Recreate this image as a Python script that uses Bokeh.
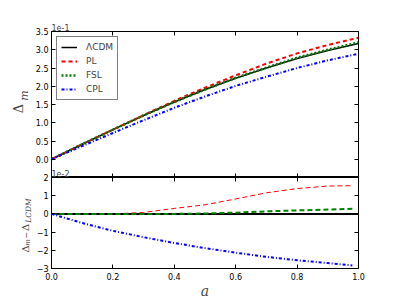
from math import pi
from bokeh.plotting import figure
from bokeh.layouts import column, row
from bokeh.models import Range1d, LinearAxis, FixedTicker, Label, CustomJSTickFormatter, Title
from bokeh.embed import file_html
from bokeh.resources import INLINE

# ---- data (top panel, Delta_m in units of 1e-1) ----
a = [0.0, 0.1, 0.2, 0.3, 0.4, 0.5, 0.6, 0.7, 0.8, 0.9, 1.0]
lcdm = [0.00, 0.41, 0.81, 1.20, 1.57, 1.91, 2.22, 2.50, 2.76, 2.98, 3.17]
pl = [0.00, 0.41, 0.81, 1.21, 1.60, 1.96, 2.30, 2.62, 2.90, 3.13, 3.33]
fsl = [0.00, 0.41, 0.81, 1.20, 1.57, 1.91, 2.23, 2.51, 2.78, 3.00, 3.20]
cpl = [0.00, 0.36, 0.72, 1.07, 1.41, 1.72, 2.01, 2.26, 2.50, 2.71, 2.89]

# ---- data (bottom panel, Delta_m - Delta_LCDM in units of 1e-2) ----
a_diff = [0.0, 0.1, 0.2, 0.3, 0.4, 0.5, 0.6, 0.7, 0.8, 0.9, 0.98]
d_lcdm = [0.0, 0.0, 0.0, 0.0, 0.0, 0.0, 0.0, 0.0, 0.0, 0.0, 0.0]
d_pl = [0.0, 0.0, 0.0, 0.08, 0.30, 0.50, 0.82, 1.16, 1.39, 1.53, 1.55]
d_fsl = [0.0, 0.0, 0.0, 0.0, 0.0, 0.02, 0.07, 0.14, 0.19, 0.24, 0.28]
d_cpl = [0.0, -0.50, -0.93, -1.28, -1.60, -1.88, -2.13, -2.36, -2.55, -2.70, -2.83]

x_ticks = [0.0, 0.2, 0.4, 0.6, 0.8, 1.0]
x_tick_labels = ["0.0", "0.2", "0.4", "0.6", "0.8", "1.0"]
top_ticks = [-0.5, 0.0, 0.5, 1.0, 1.5, 2.0, 2.5, 3.0, 3.5]
top_tick_labels = ["", "0.0", "0.5", "1.0", "1.5", "2.0", "2.5", "3.0", "3.5"]
bot_ticks = [-3, -2, -1, 0, 1, 2]
bot_tick_labels = ["\u22123", "\u22122", "\u22121", "0", "1", "2"]

FONT = "DejaVu Sans"
SERIF = "DejaVu Serif"
STRIP_W = 32
MAIN_W = 368
OVER = 6  # px of the lower panel's border that overlaps the upper panel


def style_axis(ax, ticks, labels=None):
    ax.ticker = FixedTicker(ticks=ticks)
    ax.axis_line_color = None
    ax.major_tick_in = 4
    ax.major_tick_out = 0
    ax.major_tick_line_color = "black"
    ax.major_tick_line_width = 1
    ax.minor_tick_line_color = None
    if labels is None:
        ax.formatter = CustomJSTickFormatter(code="return ''")
        ax.major_label_text_font_size = "0px"
        ax.major_label_standoff = 0
    else:
        ax.major_label_overrides = {t: l for t, l in zip(ticks, labels)}
        ax.major_label_text_font = FONT
        ax.major_label_text_font_size = "8px"
        ax.major_label_text_color = "black"


# ---------------- top panel ----------------
p1 = figure(width=MAIN_W, height=177, x_range=Range1d(0, 1), y_range=Range1d(-0.5, 3.5),
            output_backend="svg", toolbar_location=None,
            min_border_left=17, min_border_right=MAIN_W - 19 - 307, min_border_top=31,
            min_border_bottom=0, x_axis_location=None, y_axis_location=None)
p1.add_layout(LinearAxis(), "left")
p1.add_layout(LinearAxis(), "right")
p1.add_layout(LinearAxis(), "above")
p1.add_layout(LinearAxis(), "below")
style_axis(p1.left[0], top_ticks, top_tick_labels)
p1.left[0].major_label_standoff = 3
style_axis(p1.right[0], top_ticks)
style_axis(p1.above[0], x_ticks)
style_axis(p1.below[0], x_ticks)
p1.add_layout(Title(text="1e-1", align="left", text_font=FONT, text_font_size="8px",
                    text_font_style="normal", standoff=2, offset=0), "above")
p1.grid.visible = False
p1.outline_line_color = "black"
p1.outline_line_width = 1

p1.line(a, lcdm, color="black", line_width=1.5, legend_label="\u039bCDM")
p1.line(a, pl, color="#ff0000", line_width=2, line_dash="4 3", legend_label="PL")
p1.line(a, fsl, color="#008000", line_width=2.5, line_dash="2 2", legend_label="FSL")
p1.line(a, cpl, color="#0000ff", line_width=2, line_dash="3 2 1 2", legend_label="CPL")

lg = p1.legend[0]
lg.location = "top_left"
lg.margin = 5
lg.padding = 4
lg.spacing = 2
lg.label_height = 12
lg.glyph_height = 12
lg.glyph_width = 16
lg.label_standoff = 9
lg.label_text_font = FONT
lg.label_text_font_size = "9px"
lg.border_line_color = "black"
lg.border_line_width = 1
lg.background_fill_alpha = 1

p1.add_layout(Label(x=0, y=-0.5, text="1e-2", text_font=FONT, text_font_size="8px",
                    text_baseline="bottom", y_offset=1))

# ---------------- bottom panel ----------------
p2 = figure(width=MAIN_W, height=OVER + 96 + 28, x_range=p1.x_range, y_range=Range1d(-3, 2),
            output_backend="svg", toolbar_location=None,
            min_border_left=17, min_border_right=MAIN_W - 19 - 307, min_border_top=OVER,
            min_border_bottom=28, x_axis_location=None, y_axis_location=None,
            margin=(-OVER, 0, 0, 0))
p2.border_fill_alpha = 0
p2.add_layout(LinearAxis(), "left")
p2.add_layout(LinearAxis(), "right")
p2.add_layout(LinearAxis(), "above")
p2.add_layout(LinearAxis(), "below")
style_axis(p2.left[0], bot_ticks, bot_tick_labels)
p2.left[0].major_label_standoff = 3
style_axis(p2.right[0], bot_ticks)
style_axis(p2.above[0], x_ticks)
style_axis(p2.below[0], x_ticks, x_tick_labels)
bx = p2.below[0]
bx.major_label_standoff = 4
bx.axis_label = "a"
bx.axis_label_text_font = SERIF
bx.axis_label_text_font_style = "italic"
bx.axis_label_text_font_size = "14px"
bx.axis_label_standoff = 0
p2.grid.visible = False
p2.outline_line_color = "black"
p2.outline_line_width = 1

p2.line(a, d_lcdm, color="black", line_width=2)
p2.line(a_diff, d_pl, color="#ff0000", line_width=1, line_dash="5 3")
p2.line(a_diff, d_fsl, color="#008000", line_width=2, line_dash="5 3")
p2.line(a_diff, d_cpl, color="#0000ff", line_width=2, line_dash="3 2 1 2")

# ---------------- y-label strip (page pixel coordinates) ----------------
H = 177 + 96 + 28
s = figure(width=STRIP_W, height=H, x_range=Range1d(0, STRIP_W), y_range=Range1d(0, H),
           output_backend="svg", toolbar_location=None, min_border=0,
           x_axis_location=None, y_axis_location=None)
s.grid.visible = False
s.outline_line_color = None
label_parts = [
    # text, glyph baseline x, centre y (from top), font size (px), style
    ("\u0394", 23.5, 108.0, 13, "normal"),
    ("m", 28.7, 95.0, 11, "italic"),
    ("\u0394", 29.0, 248.5, 10, "normal"),
    ("m", 31.0, 242.0, 7, "italic"),
    ("\u2212", 29.0, 235.0, 8, "normal"),
    ("\u0394", 29.0, 227.0, 10, "normal"),
    ("LCDM", 31.5, 210.0, 7.5, "italic"),
]
for txt, base_x, py, fs, style in label_parts:
    # rotated labels sit with their baseline ~0.43 em right of the anchor
    s.add_layout(Label(x=base_x - 0.43 * fs, y=H - py, text=txt, text_font=SERIF,
                       text_font_style=style, text_font_size=f"{fs}px", angle=pi / 2,
                       text_align="center", text_baseline="alphabetic"))

layout = row(s, column(p1, p2, spacing=0), spacing=0)
open("out.html", "w").write(file_html(layout, INLINE))
